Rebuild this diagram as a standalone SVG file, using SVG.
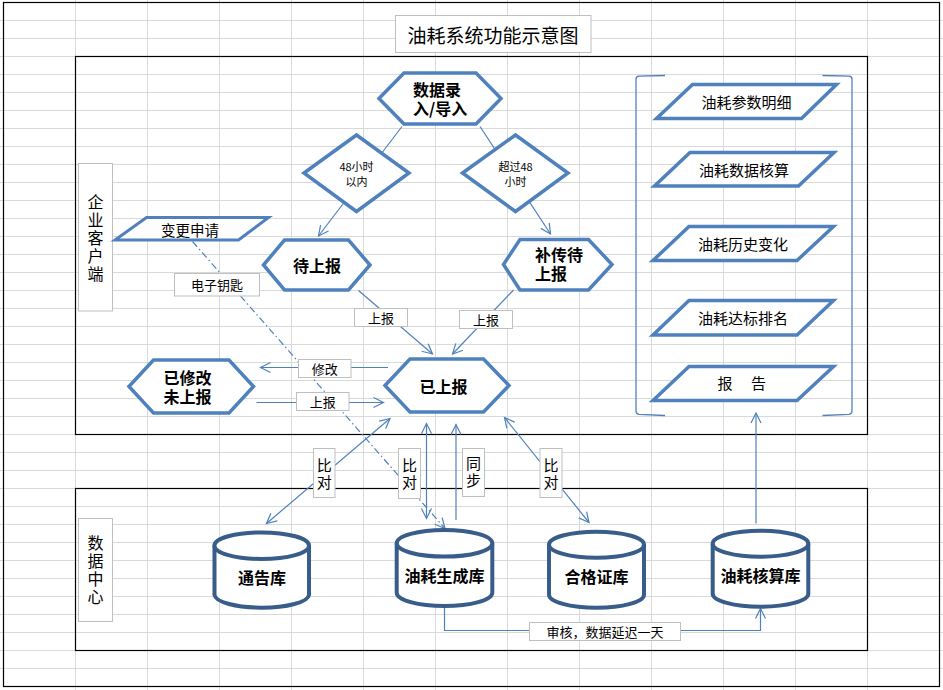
<svg xmlns="http://www.w3.org/2000/svg" width="943" height="690" viewBox="0 0 943 690">
  <style>
    .grid line { stroke: #d9d9d9; stroke-width: 1; }
    .frame { fill: none; stroke: #000; stroke-width: 1.2; }
    .side { fill: #fff; stroke: #bfbfbf; stroke-width: 1; }
    .shape { fill: #fff; stroke: #4f81bd; stroke-width: 3.5; stroke-linejoin: miter; }
    .db { fill: #fff; stroke: #385d8a; stroke-width: 4; }
    .conn { fill: none; stroke: #4f81bd; stroke-width: 1.2; }
    .tag { fill: #fff; stroke: #bfbfbf; stroke-width: 1; }
    text { font-family: "Noto Sans CJK SC", "Noto Sans", sans-serif; fill: #000; dominant-baseline: central; }
    .b16 { font-size: 16px; font-weight: bold; }
    .r15 { font-size: 15px; }
    .r13 { font-size: 13px; }
    .r11 { font-size: 11px; }
    .mid { text-anchor: middle; }
    .vert { writing-mode: vertical-rl; text-anchor: middle; font-size: 16px; letter-spacing: 2px; }
    .vtag { writing-mode: vertical-rl; text-anchor: middle; font-size: 15px; letter-spacing: 2px; }
  </style>
  <defs>
    <marker id="arr" markerUnits="userSpaceOnUse" markerWidth="14" markerHeight="14" viewBox="-12 -7 14 14" refX="0" refY="0" orient="auto-start-reverse" overflow="visible">
      <path d="M-10,-5 L0,0 L-10,5" fill="none" stroke="#4f81bd" stroke-width="1.2"/>
    </marker>
  </defs>

  <rect width="943" height="690" fill="#fff"/>

  <!-- worksheet grid -->
  <g class="grid">
    <line x1="0" y1="20.5" x2="943" y2="20.5"/><line x1="0" y1="38.5" x2="943" y2="38.5"/>
    <line x1="0" y1="56.5" x2="943" y2="56.5"/><line x1="0" y1="74.5" x2="943" y2="74.5"/>
    <line x1="0" y1="92.5" x2="943" y2="92.5"/><line x1="0" y1="110.5" x2="943" y2="110.5"/>
    <line x1="0" y1="128.5" x2="943" y2="128.5"/><line x1="0" y1="146.5" x2="943" y2="146.5"/>
    <line x1="0" y1="164.5" x2="943" y2="164.5"/><line x1="0" y1="182.5" x2="943" y2="182.5"/>
    <line x1="0" y1="200.5" x2="943" y2="200.5"/><line x1="0" y1="218.5" x2="943" y2="218.5"/>
    <line x1="0" y1="236.5" x2="943" y2="236.5"/><line x1="0" y1="254.5" x2="943" y2="254.5"/>
    <line x1="0" y1="272.5" x2="943" y2="272.5"/><line x1="0" y1="290.5" x2="943" y2="290.5"/>
    <line x1="0" y1="308.5" x2="943" y2="308.5"/><line x1="0" y1="326.5" x2="943" y2="326.5"/>
    <line x1="0" y1="344.5" x2="943" y2="344.5"/><line x1="0" y1="362.5" x2="943" y2="362.5"/>
    <line x1="0" y1="380.5" x2="943" y2="380.5"/><line x1="0" y1="398.5" x2="943" y2="398.5"/>
    <line x1="0" y1="416.5" x2="943" y2="416.5"/><line x1="0" y1="434.5" x2="943" y2="434.5"/>
    <line x1="0" y1="452.5" x2="943" y2="452.5"/><line x1="0" y1="470.5" x2="943" y2="470.5"/>
    <line x1="0" y1="488.5" x2="943" y2="488.5"/><line x1="0" y1="506.5" x2="943" y2="506.5"/>
    <line x1="0" y1="524.5" x2="943" y2="524.5"/><line x1="0" y1="542.5" x2="943" y2="542.5"/>
    <line x1="0" y1="560.5" x2="943" y2="560.5"/><line x1="0" y1="578.5" x2="943" y2="578.5"/>
    <line x1="0" y1="596.5" x2="943" y2="596.5"/><line x1="0" y1="614.5" x2="943" y2="614.5"/>
    <line x1="0" y1="632.5" x2="943" y2="632.5"/><line x1="0" y1="650.5" x2="943" y2="650.5"/>
    <line x1="0" y1="668.5" x2="943" y2="668.5"/>
    <line x1="75.5" y1="0" x2="75.5" y2="690"/><line x1="147.5" y1="0" x2="147.5" y2="690"/>
    <line x1="219.5" y1="0" x2="219.5" y2="690"/><line x1="291.5" y1="0" x2="291.5" y2="690"/>
    <line x1="363.5" y1="0" x2="363.5" y2="690"/><line x1="435.5" y1="0" x2="435.5" y2="690"/>
    <line x1="507.5" y1="0" x2="507.5" y2="690"/><line x1="579.5" y1="0" x2="579.5" y2="690"/>
    <line x1="651.5" y1="0" x2="651.5" y2="690"/><line x1="723.5" y1="0" x2="723.5" y2="690"/>
    <line x1="795.5" y1="0" x2="795.5" y2="690"/><line x1="867.5" y1="0" x2="867.5" y2="690"/>
  </g>

  <!-- outer border and the two zones -->
  <rect class="frame" x="3.5" y="2.5" width="936" height="684"/>
  <rect class="frame" x="75.5" y="56.5" width="792" height="378"/>
  <rect class="frame" x="75.5" y="488.5" width="792" height="162"/>

  <!-- title -->
  <g id="title">
    <rect class="side" x="395.5" y="15.5" width="195.5" height="37"/>
    <text x="493" y="34" class="mid" style="font-size:19px">油耗系统功能示意图</text>
  </g>

  <!-- zone captions -->
  <g id="zone-client">
    <rect class="side" x="78.5" y="163.5" width="34" height="147.5"/>
    <text class="vert" x="95.5" y="239">企业客户端</text>
  </g>
  <g id="zone-datacenter">
    <rect class="side" x="78.5" y="518.5" width="34" height="103"/>
    <text class="vert" x="95.5" y="571">数据中心</text>
  </g>

  <!-- bracket around the report functions -->
  <g id="report-bracket" fill="none" stroke="#4f81bd" stroke-width="1.3">
    <path d="M665,75.5 L639,76.2 Q636,76.5 636,79 L636,411 Q636,414 639,414.3 L665,415.5"/>
    <path d="M822.5,75.5 L849,76.2 Q852,76.5 852,79 L852,411 Q852,414 849,414.3 L822.5,415.5"/>
  </g>

  <!-- connectors -->
  <g id="connectors">
    <line class="conn" x1="402" y1="126.5" x2="318.5" y2="236" marker-end="url(#arr)"/>
    <line class="conn" x1="480" y1="126.5" x2="550.5" y2="234" marker-end="url(#arr)"/>
    <line class="conn" x1="358.5" y1="290.5" x2="432.5" y2="354" marker-end="url(#arr)"/>
    <line class="conn" x1="513.5" y1="290" x2="452.5" y2="354" marker-end="url(#arr)"/>
    <line class="conn" x1="388" y1="367.5" x2="260.5" y2="367.5" marker-end="url(#arr)"/>
    <line class="conn" x1="256.5" y1="402.5" x2="383.5" y2="402.5" marker-end="url(#arr)"/>
    <line class="conn" x1="192.5" y1="241.5" x2="445" y2="528.5" stroke-dasharray="7 3 1.5 3" marker-end="url(#arr)"/>
    <line class="conn" x1="390" y1="418.5" x2="266.5" y2="523.5" marker-start="url(#arr)" marker-end="url(#arr)"/>
    <line class="conn" x1="426.5" y1="423.5" x2="426.5" y2="518.5" marker-start="url(#arr)" marker-end="url(#arr)"/>
    <line class="conn" x1="456" y1="520" x2="456" y2="424.5" marker-end="url(#arr)"/>
    <line class="conn" x1="504.5" y1="417.5" x2="589" y2="522.5" marker-start="url(#arr)" marker-end="url(#arr)"/>
    <line class="conn" x1="756" y1="523.5" x2="756" y2="413" marker-end="url(#arr)"/>
    <polyline class="conn" points="444.5,606 444.5,630.5 760.5,630.5 760.5,608.5" marker-end="url(#arr)"/>

    <!-- connector labels -->
    <rect class="tag" x="354.5" y="308.5" width="53" height="18"/>
    <text class="r13 mid" x="381" y="317.5">上报</text>
    <rect class="tag" x="459.5" y="310.5" width="53" height="18"/>
    <text class="r13 mid" x="486" y="319.5">上报</text>
    <rect class="tag" x="298.5" y="359.5" width="52.5" height="18"/>
    <text class="r13 mid" x="324.7" y="368.5">修改</text>
    <rect class="tag" x="296.5" y="392.5" width="52.5" height="18"/>
    <text class="r13 mid" x="322.7" y="401.5">上报</text>
    <rect class="tag" x="174.5" y="273.5" width="85" height="22.5"/>
    <text class="r13 mid" x="217" y="284.7">电子钥匙</text>
    <rect class="tag" x="313.5" y="448.5" width="21.5" height="49"/>
    <text class="vtag" x="324.3" y="474.5">比对</text>
    <rect class="tag" x="398.5" y="448.5" width="22" height="50"/>
    <text class="vtag" x="409.5" y="474.5">比对</text>
    <rect class="tag" x="462.5" y="448.5" width="22" height="48"/>
    <text class="vtag" x="473.5" y="473">同步</text>
    <rect class="tag" x="540" y="448.5" width="22" height="49"/>
    <text class="vtag" x="551" y="474.5">比对</text>
    <rect class="tag" x="529.5" y="622.5" width="151" height="18"/>
    <text class="r13 mid" x="605" y="631.5">审核，数据延迟一天</text>
  </g>

  <!-- process nodes -->
  <g id="n-input">
    <polygon class="shape" points="379,98.5 404,73 476,73 501,98.5 476,124 404,124"/>
    <text class="b16" x="413" y="88.5">数据录<tspan x="413" dy="19">入/导入</tspan></text>
  </g>
  <g id="n-within48">
    <polygon class="shape" points="304,173 356.5,135 409,173 356.5,211.5"/>
    <text class="r11 mid" x="356.5" y="166">48小时<tspan x="356.5" dy="14.5">以内</tspan></text>
  </g>
  <g id="n-over48">
    <polygon class="shape" points="462.5,173 515.5,135 568,173 515.5,211.5"/>
    <text class="r11 mid" x="515.5" y="166">超过48<tspan x="515.5" dy="14.5">小时</tspan></text>
  </g>
  <g id="n-pending">
    <polygon class="shape" points="263.5,265 284.5,240 348.5,240 370,265 348.5,290 284.5,290"/>
    <text class="b16 mid" x="317" y="265">待上报</text>
  </g>
  <g id="n-late">
    <polygon class="shape" points="503.5,264.5 520,239.5 588.5,239.5 612,264.5 588.5,290 520,290"/>
    <text class="b16" x="535" y="254">补传待<tspan x="535" dy="18.5">上报</tspan></text>
  </g>
  <g id="n-reported">
    <polygon class="shape" points="385,385.5 410,359 483.5,359 509,385.5 483.5,412 410,412"/>
    <text class="b16 mid" x="443.5" y="385.5">已上报</text>
  </g>
  <g id="n-modified">
    <polygon class="shape" points="129,386.5 153.5,360 229,360 253.5,386.5 229,413 153.5,413"/>
    <text class="b16" x="163.5" y="377">已修改<tspan x="163.5" dy="19">未上报</tspan></text>
  </g>
  <g id="n-change">
    <polygon class="shape" style="stroke-width:3" points="146.5,217.5 268.5,217.5 238.5,240 115,240"/>
    <text class="mid" style="font-size:14.5px" x="190" y="229">变更申请</text>
  </g>

  <!-- report functions -->
  <g id="f-params">
    <polygon class="shape" points="692.5,84.5 836.5,84.5 801.5,118.5 656.5,118.5"/>
    <text class="r15 mid" x="746.5" y="101.5">油耗参数明细</text>
  </g>
  <g id="f-calc">
    <polygon class="shape" points="690,152.5 834,152.5 798.5,186 654.5,186"/>
    <text class="r15 mid" x="744" y="169.5">油耗数据核算</text>
  </g>
  <g id="f-history">
    <polygon class="shape" points="689,226.5 833.5,226.5 797,260.5 653,260.5"/>
    <text class="r15 mid" x="743" y="243">油耗历史变化</text>
  </g>
  <g id="f-ranking">
    <polygon class="shape" points="689,300.5 833.5,300.5 797,335 653,335"/>
    <text class="r15 mid" x="743" y="317">油耗达标排名</text>
  </g>
  <g id="f-report">
    <polygon class="shape" points="689,366.5 833.5,366.5 797,400.5 653,400.5"/>
    <text class="r15 mid" x="742.6" y="382.5" style="letter-spacing:1.75px">报　告</text>
  </g>

  <!-- databases -->
  <g id="db-notice">
    <path class="db" d="M214.5,545.7 L214.5,595 A47.3,13.3 0 0 0 309,595 L309,545.7"/>
    <ellipse class="db" cx="261.7" cy="545.7" rx="47.3" ry="13.3"/>
    <text class="b16 mid" x="262" y="577">通告库</text>
  </g>
  <g id="db-generate">
    <path class="db" d="M396.7,543.3 L396.7,592.7 A47.8,13.3 0 0 0 492.3,592.7 L492.3,543.3"/>
    <ellipse class="db" cx="444.5" cy="543.3" rx="47.8" ry="13.3"/>
    <text class="b16 mid" x="444.5" y="575">油耗生成库</text>
  </g>
  <g id="db-cert">
    <path class="db" d="M549,544.7 L549,594.7 A47.5,13 0 0 0 644,594.7 L644,544.7"/>
    <ellipse class="db" cx="596.5" cy="544.7" rx="47.5" ry="13"/>
    <text class="b16 mid" x="596.5" y="576">合格证库</text>
  </g>
  <g id="db-calc">
    <path class="db" d="M712.7,543.7 L712.7,593.7 A47.8,13 0 0 0 808.3,593.7 L808.3,543.7"/>
    <ellipse class="db" cx="760.5" cy="543.7" rx="47.8" ry="13"/>
    <text class="b16 mid" x="760.5" y="575">油耗核算库</text>
  </g>
</svg>
